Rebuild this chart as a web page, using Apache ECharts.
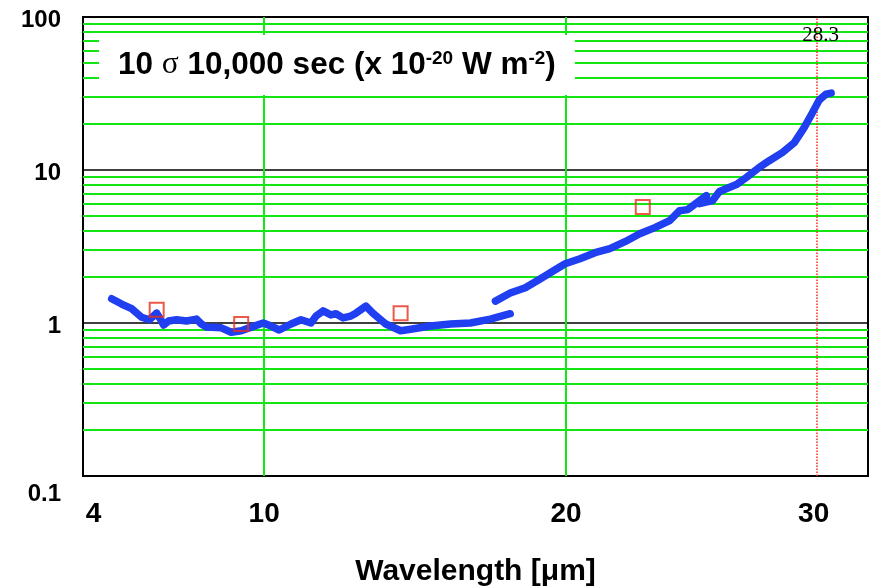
<!DOCTYPE html>
<html>
<head>
<meta charset="utf-8">
<script src="https://cdn.jsdelivr.net/npm/echarts@6/dist/echarts.min.js"></script>
<style>
  html, body { margin: 0; padding: 0; background: #fff; }
  #chart { width: 872px; height: 588px; }
</style>
</head>
<body>
<div id="chart"></div>
<script>
// sensitivity curve, short wavelength part [wavelength um, flux]
const segmentShort = [
  [4.95, 1.44], [5.28, 1.33], [5.61, 1.24], [5.94, 1.09], [6.20, 1.05], [6.44, 1.16],
  [6.60, 1.03], [6.67, 0.97], [6.83, 1.03], [7.10, 1.05], [7.43, 1.03], [7.76, 1.06],
  [7.92, 0.985], [8.09, 0.94], [8.58, 0.93], [8.91, 0.87], [9.24, 0.89], [9.57, 0.94],
  [9.97, 1.00], [10.23, 0.955], [10.50, 0.90], [10.89, 0.985], [11.22, 1.05], [11.55, 1.00],
  [11.72, 1.11], [11.95, 1.20], [12.21, 1.13], [12.38, 1.15], [12.61, 1.08], [12.87, 1.11],
  [13.04, 1.16], [13.37, 1.29], [13.60, 1.16], [14.03, 0.985], [14.52, 0.89], [14.85, 0.91],
  [15.51, 0.955], [16.17, 0.985], [16.83, 1.00], [17.49, 1.06], [18.15, 1.15]
];
// long wavelength part
const segmentLong = [
  [17.66, 1.39], [18.15, 1.57], [18.65, 1.70], [19.14, 1.94], [19.64, 2.23], [19.97, 2.44],
  [20.46, 2.63], [20.96, 2.88], [21.45, 3.06], [21.95, 3.40], [22.44, 3.83], [22.94, 4.20],
  [23.43, 4.67], [23.76, 5.42], [24.03, 5.51], [24.65, 6.8], [24.42, 6.03], [24.85, 6.31],
  [25.08, 7.23], [25.64, 8.03], [25.97, 8.93], [26.40, 10.4], [26.73, 11.5], [27.16, 13.0],
  [27.56, 15.1], [27.89, 19.0], [28.15, 23.5], [28.38, 28.6], [28.61, 31.3], [28.78, 31.8]
];
// red squares
const squarePoints = [[6.44, 1.22], [9.24, 0.985], [14.52, 1.16], [22.54, 5.72]];

const cutoffWavelength = 28.3;
const xLabelValues = [4.35, 10, 20, 28.2];
const xLabelTexts = ['4', '10', '20', '30'];
const xGridValues = [10, 20];
const yMinorGrid = [0.2, 0.3, 0.4, 0.5, 0.6, 0.7, 0.8, 0.9,
  2, 3, 4, 5, 6, 7, 8, 9,
  20, 30, 40, 50, 60, 70, 80, 90];

const GREEN = '#14e614';
const BLUE = '#1f3ff0';
const SANS = 'Arial, "Liberation Sans", sans-serif';
const SERIF = '"Times New Roman", "Liberation Serif", serif';

const chart = echarts.init(document.getElementById('chart'));

const gridLines = [];
yMinorGrid.forEach(v => gridLines.push({yAxis: v}));
xGridValues.forEach(v => gridLines.push({xAxis: v}));

const option = {
  animation: false,
  title: {
    text: '10 {s|σ} 10,000 sec (x 10{sup|-20} W m{sup|-2})',
    left: 99,
    top: 35,
    padding: [14, 19, 14, 19],
    backgroundColor: '#fff',
    z: 10,
    textStyle: {
      fontFamily: SANS,
      fontSize: 31.5,
      fontWeight: 'bold',
      color: '#000',
      rich: {
        s: {fontFamily: SERIF, fontSize: 31.5, fontWeight: 'normal', color: '#000'},
        sup: {fontFamily: SANS, fontSize: 19, fontWeight: 'bold', color: '#000', verticalAlign: 'top'}
      }
    }
  },
  grid: {
    left: 83,
    right: 4,
    top: 17,
    bottom: 112,
    show: true,
    borderColor: '#000',
    borderWidth: 2,
    backgroundColor: '#fff',
    outerBoundsMode: 'none'
  },
  xAxis: {
    type: 'value',
    min: 4,
    max: 30,
    name: 'Wavelength [μm]',
    nameLocation: 'middle',
    nameGap: 81,
    nameTextStyle: {fontFamily: SANS, fontSize: 30, fontWeight: 'bold', color: '#000'},
    axisLine: {show: false},
    axisTick: {show: false},
    splitLine: {show: false},
    axisLabel: {
      customValues: xLabelValues,
      formatter: v => xLabelTexts[xLabelValues.indexOf(v)],
      margin: 24,
      fontFamily: SANS,
      fontSize: 28,
      fontWeight: 'bold',
      color: '#000'
    }
  },
  yAxis: {
    type: 'log',
    logBase: 10,
    min: 0.1,
    max: 100,
    axisLine: {show: false},
    axisTick: {show: false},
    splitLine: {show: true, lineStyle: {color: '#000', width: 1.5}},
    axisLabel: {
      margin: 22,
      color: '#000',
      verticalAlignMinLabel: 'top',
      formatter: v => '{t|' + v + '}',
      rich: {
        t: {
          fontFamily: SANS,
          fontSize: 24,
          fontWeight: 'bold',
          color: '#000',
          padding: [6, 0, 0, 0]
        }
      }
    }
  },
  series: [
    {
      name: 'grid',
      type: 'line',
      data: [],
      silent: true,
      markLine: {
        silent: true,
        symbol: 'none',
        z: 1,
        label: {show: false},
        lineStyle: {color: GREEN, width: 2, type: 'solid'},
        data: gridLines
      }
    },
    {
      name: 'cutoff',
      type: 'line',
      data: [],
      silent: true,
      markLine: {
        silent: true,
        symbol: 'none',
        z: 2,
        label: {show: false},
        lineStyle: {color: '#ff2a1a', width: 1.5, type: 'dotted'},
        data: [{xAxis: cutoffWavelength}]
      },
      markPoint: {
        silent: true,
        symbol: 'circle',
        symbolSize: 0,
        data: [{coord: [cutoffWavelength, 76], value: cutoffWavelength}],
        label: {
          show: true,
          position: 'inside',
          offset: [4, 0],
          formatter: p => String(p.value),
          fontFamily: SERIF,
          fontSize: 21,
          color: '#000'
        }
      }
    },
    {
      name: 'short',
      type: 'line',
      z: 4,
      data: segmentShort,
      showSymbol: false,
      lineStyle: {color: BLUE, width: 7.5, cap: 'round', join: 'round'}
    },
    {
      name: 'long',
      type: 'line',
      z: 4,
      data: segmentLong,
      showSymbol: false,
      lineStyle: {color: BLUE, width: 7.5, cap: 'round', join: 'round'}
    },
    {
      name: 'points',
      type: 'scatter',
      z: 5,
      data: squarePoints,
      symbol: 'rect',
      symbolSize: 14,
      itemStyle: {color: 'rgba(255,255,255,0)', borderColor: '#e8301a', borderWidth: 2}
    }
  ]
};
chart.setOption(option);
</script>
</body>
</html>
